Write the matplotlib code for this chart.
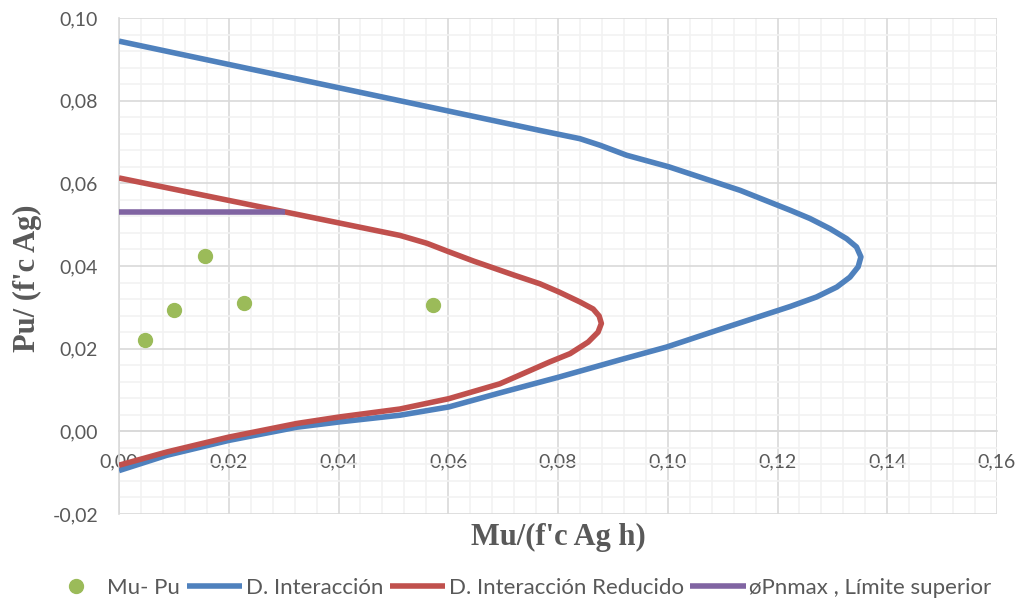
import matplotlib
matplotlib.use("Agg")
import matplotlib.pyplot as plt
from matplotlib.ticker import MultipleLocator, FuncFormatter

# Factored loads (Mu, Pu)
mu_pu_x = [0.0047, 0.0101, 0.0156, 0.0228, 0.0572]
mu_pu_y = [0.0220, 0.0293, 0.0423, 0.0310, 0.0305]

# Nominal interaction diagram
di_x = [0.0, 0.0767, 0.0840, 0.0877, 0.0925, 0.1002, 0.1132, 0.1223, 0.1259,
        0.1296, 0.1326, 0.1344, 0.1352, 0.1347, 0.1332, 0.1308, 0.1271, 0.1223,
        0.1089, 0.0998, 0.0913, 0.0801, 0.0694, 0.0601, 0.0512, 0.0403, 0.0324,
        0.0200, 0.0087, 0.0]
di_y = [0.0944, 0.0728, 0.0708, 0.0692, 0.0668, 0.0640, 0.0583, 0.0535, 0.0515,
        0.0490, 0.0466, 0.0446, 0.0422, 0.0398, 0.0373, 0.0349, 0.0325, 0.0302,
        0.0244, 0.0204, 0.0173, 0.0131, 0.0093, 0.0059, 0.0039, 0.0023, 0.0010,
        -0.0022, -0.0058, -0.0095]

# Reduced interaction diagram
dr_x = [0.0, 0.0512, 0.0561, 0.0600, 0.0646, 0.0722, 0.0767, 0.0802, 0.0840,
        0.0864, 0.0875, 0.0879, 0.0873, 0.0855, 0.0822, 0.0785, 0.0694, 0.0601,
        0.0512, 0.0403, 0.0324, 0.0200, 0.0087, 0.0]
dr_y = [0.0613, 0.0474, 0.0455, 0.0435, 0.0412, 0.0377, 0.0357, 0.0337, 0.0313,
        0.0296, 0.0279, 0.0261, 0.0240, 0.0216, 0.0188, 0.0168, 0.0115, 0.0079,
        0.0054, 0.0035, 0.0019, -0.0014, -0.0050, -0.0082]

# Upper limit øPnmax
pn_x = [0.0, 0.0303]
pn_y = [0.0530, 0.0530]

x_ticks = [0.00, 0.02, 0.04, 0.06, 0.08, 0.10, 0.12, 0.14, 0.16]
y_ticks = [-0.02, 0.00, 0.02, 0.04, 0.06, 0.08, 0.10]

BLUE = "#4F81BD"
RED = "#C0504D"
PURPLE = "#8064A2"
GREEN = "#9BBB59"
TXT = "#595959"

plt.rcParams["font.family"] = ["Lato", "DejaVu Sans"]

fig = plt.figure(figsize=(10.26, 6.01), dpi=100)
ax = fig.add_axes([119 / 1026, 1 - 514 / 601, (997 - 119) / 1026, (514 - 18) / 601])

ax.plot(mu_pu_x, mu_pu_y, "o", color=GREEN, markersize=10, label="Mu- Pu", zorder=3)
ax.plot(di_x, di_y, "-", color=BLUE, lw=4, solid_joinstyle="round",
        solid_capstyle="butt", label="D. Interacción", zorder=3)
ax.plot(dr_x, dr_y, "-", color=RED, lw=4, solid_joinstyle="round",
        solid_capstyle="butt", label="D. Interacción Reducido", zorder=4)
ax.plot(pn_x, pn_y, "-", color=PURPLE, lw=4, solid_capstyle="butt",
        label="øPnmax , Límite superior", zorder=4)

ax.set_xlim(x_ticks[0], x_ticks[-1])
ax.set_ylim(y_ticks[0], y_ticks[-1])
ax.set_xticks(x_ticks)
ax.set_yticks(y_ticks)
ax.xaxis.set_minor_locator(MultipleLocator(0.004))
ax.yaxis.set_minor_locator(MultipleLocator(0.004))
fmt = FuncFormatter(lambda v, p: f"{v:.2f}".replace(".", ",").replace("-0,00", "0,00"))
ax.xaxis.set_major_formatter(fmt)
ax.yaxis.set_major_formatter(fmt)

ax.grid(which="major", color="#D9D9D9", lw=1.2, zorder=0)
ax.grid(which="minor", color="#F2F2F2", lw=1.2, zorder=0)
ax.set_axisbelow(True)

for s in ["top", "right"]:
    ax.spines[s].set_visible(False)
ax.spines["left"].set_color("#D9D9D9")
ax.spines["left"].set_linewidth(1.2)
ax.spines["bottom"].set_position(("data", 0))
ax.spines["bottom"].set_color("#D9D9D9")
ax.spines["bottom"].set_linewidth(1.2)

ax.tick_params(which="both", length=0)
ax.tick_params(axis="x", labelsize=14, labelcolor=TXT, pad=16)
ax.tick_params(axis="y", labelsize=14, labelcolor=TXT, pad=15)

fig.text(558 / 1026, 1 - 537 / 601, "Mu/(f'c Ag h)", ha="center", va="center",
         fontsize=22, fontweight="bold", family="Liberation Serif", color=TXT)
fig.text(27 / 1026, 1 - 278 / 601, "Pu/ (f'c Ag)", ha="center", va="center",
         rotation=90, fontsize=22, fontweight="bold", family="Liberation Serif", color=TXT)

leg = fig.legend(loc="center", bbox_to_anchor=(520 / 1026, 1 - 588 / 601), ncol=4,
                 frameon=False, fontsize=16, handlelength=2.5, handletextpad=0.15,
                 columnspacing=0.3, markerscale=1.0)
for t in leg.get_texts():
    t.set_color(TXT)

fig.savefig("out.png", dpi=100)
